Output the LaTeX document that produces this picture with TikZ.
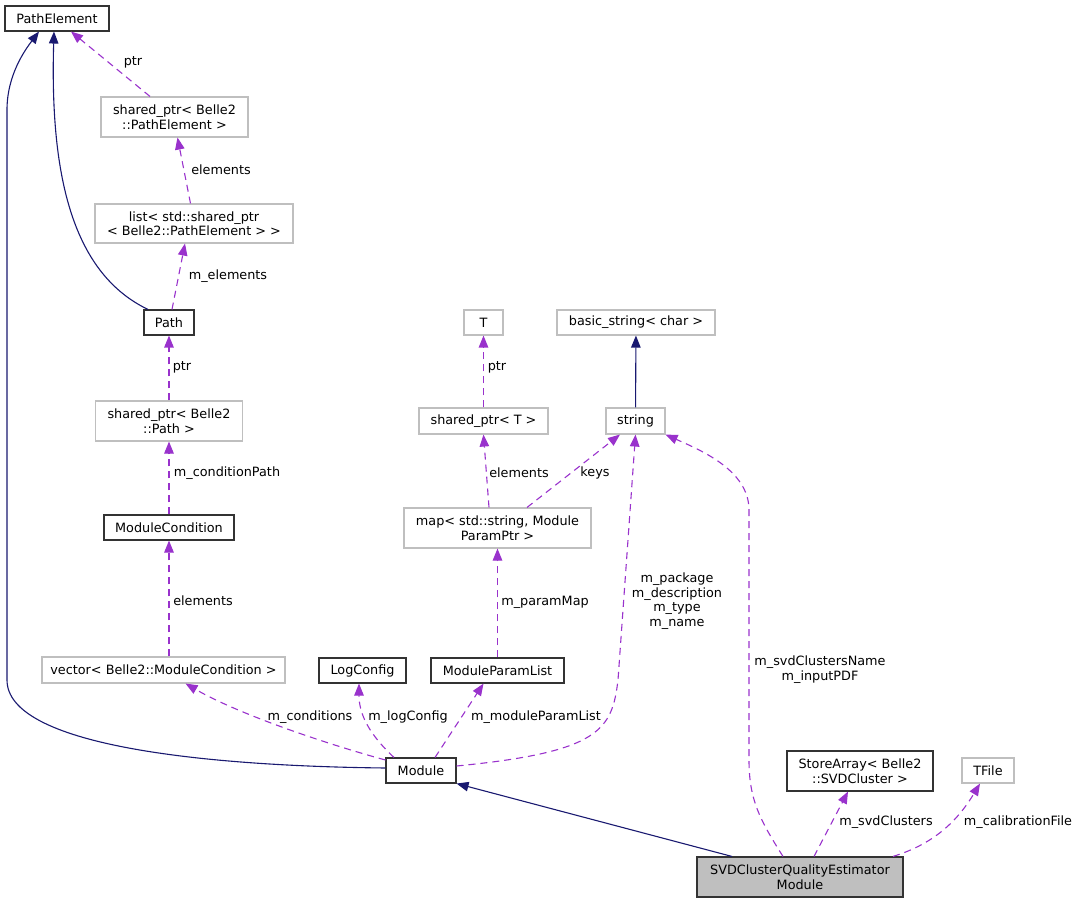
\documentclass[tikz,border=0pt]{standalone}
\usepackage{fontspec}
\setmainfont{DejaVu Sans}
\usetikzlibrary{arrows.meta}
\definecolor{navy}{RGB}{25,25,112}
\definecolor{orchid}{RGB}{153,50,204}
\definecolor{boxgray}{RGB}{191,191,191}

\begin{document}
\begin{tikzpicture}[x=1pt, y=-1pt, >={Triangle[length=12pt,width=9.5pt]},
		every node/.style={font=\fontsize{12.8}{14.5}\selectfont, inner sep=0pt, align=center},
		cls/.style={draw=black!80, line width=1.1pt, fill=white},
		ext/.style={draw=boxgray, line width=1.1pt, fill=white},
		inh/.style={->, draw=navy, line width=1.1pt},
		usage/.style={->, draw=orchid, line width=1.1pt, dash pattern=on 7pt off 5pt}]
		\useasboundingbox (0,0) rectangle (1080,904);
		
		% classes
		\node[cls, minimum width=104pt, minimum height=25pt] (pathelem) at (57,18.5) {PathElement};
		\node[ext, minimum width=147pt, minimum height=40pt] (sppathelem) at (174.5,117) {shared\_ptr< Belle2\\::PathElement >};
		\node[ext, minimum width=198pt, minimum height=39pt] (list) at (194,223.5) {list< std::shared\_ptr\\< Belle2::PathElement > >};
		\node[cls, minimum width=50pt, minimum height=25pt] (path) at (169,322.5) {Path};
		\node[ext, minimum width=147pt, minimum height=40pt] (sppath) at (169,421) {shared\_ptr< Belle2\\::Path >};
		\node[cls, minimum width=130pt, minimum height=25pt] (modcond) at (169,527.5) {ModuleCondition};
		\node[ext, minimum width=243pt, minimum height=26pt] (vector) at (163.5,670) {vector< Belle2::ModuleCondition >};
		\node[cls, minimum width=87pt, minimum height=25pt] (logconf) at (362.5,670.5) {LogConfig};
		\node[cls, minimum width=133pt, minimum height=25pt] (parlist) at (497.5,670.5) {ModuleParamList};
		\node[cls, minimum width=70pt, minimum height=25pt] (module) at (421,770.5) {Module};
		\node[ext, minimum width=39pt, minimum height=25pt] (T) at (483.5,322.5) {T};
		\node[ext, minimum width=129pt, minimum height=26pt] (spT) at (483.5,421) {shared\_ptr< T >};
		\node[ext, minimum width=158pt, minimum height=25pt] (bstring) at (636,322.5) {basic\_string< char >};
		\node[ext, minimum width=59pt, minimum height=26pt] (string) at (635.5,421) {string};
		\node[ext, minimum width=187pt, minimum height=40pt] (map) at (497.5,528) {map< std::string, Module\\ParamPtr >};
		\node[cls, minimum width=146pt, minimum height=40pt] (storearr) at (860,771) {StoreArray< Belle2\\::SVDCluster >};
		\node[ext, minimum width=52pt, minimum height=25pt] (tfile) at (988,770.5) {TFile};
		\node[cls, fill=boxgray, minimum width=206pt, minimum height=40pt] (svdqe) at (800,877) {SVDClusterQualityEstimator\\Module};
		
		% inheritance
		\draw[inh] (module.west |- 0,768) .. controls (200,766) and (7,745) .. (7,680)
		-- (7,110) .. controls (7,75) and (25,50) .. ([xshift=-18pt]pathelem.south);
		\draw[inh] ([xshift=-21pt]path.north) .. controls (70,272) and (50,170) .. ([xshift=-3pt]pathelem.south);
		\draw[inh] (string) -- (bstring);
		\draw[inh] ([xshift=-68pt]svdqe.north) -- (module.south east);
		
		% usage
		\draw[usage] ([xshift=-24.5pt]sppathelem.north) -- ([xshift=14pt]pathelem.south);
		\node at (133,62) {ptr};
		\draw[usage] ([xshift=-3.5pt]list.north) -- ([xshift=3pt]sppathelem.south);
		\node at (221,170) {elements};
		\draw[usage] ([xshift=3pt]path.north) -- ([xshift=-9pt]list.south);
		\node at (228,276) {m\_elements};
		\draw[usage] (sppath) -- (path);
		\node at (182,367) {ptr};
		\draw[usage] (modcond) -- (sppath);
		\node at (227,473) {m\_conditionPath};
		\draw[usage] ([xshift=5.5pt]vector.north) -- (modcond.south);
		\node at (203,601) {elements};
		\draw[usage] (module.north west |- 0,760) .. controls (330,745) and (240,715) .. ([xshift=22pt]vector.south);
		\node at (310,717) {m\_conditions};
		\draw[usage] ([xshift=-27pt]module.north) .. controls (370,735) and (359,715) .. ([xshift=-3.5pt]logconf.south);
		\node at (408,717) {m\_logConfig};
		\draw[usage] ([xshift=14pt]module.north) -- ([xshift=-14pt]parlist.south);
		\node at (536,717) {m\_moduleParamList};
		\draw[usage] (parlist) -- (map);
		\node at (545,602) {m\_paramMap};
		\draw[usage] ([xshift=-8.5pt]map.north) -- (spT.south);
		\node at (519,473) {elements};
		\draw[usage] ([xshift=29.5pt]map.north) -- ([xshift=-15.5pt]string.south);
		\node at (595,473) {keys};
		\draw[usage] (spT) -- (T);
		\node at (497,367) {ptr};
		\draw[usage] (module.east |- 0,766) .. controls (600,752) and (612,730) .. (618,680) -- (string.south);
		\node at (677,601) {m\_package\\m\_description\\m\_type\\m\_name};
		\draw[usage] ([xshift=-17pt]svdqe.north) .. controls (760,820) and (749,800) .. (749,760)
		-- (749,510) .. controls (749,470) and (700,450) .. (string.south east);
		\node at (820,669.5) {m\_svdClustersName\\m\_inputPDF};
		\draw[usage] ([xshift=14pt]svdqe.north) -- ([xshift=-12pt]storearr.south);
		\node at (886,822) {m\_svdClusters};
		\draw[usage] ([xshift=93pt]svdqe.north) .. controls (930,845) and (955,825) .. ([xshift=-8pt]tfile.south);
		\node at (1018,822) {m\_calibrationFile};
	\end{tikzpicture}
\end{document}
